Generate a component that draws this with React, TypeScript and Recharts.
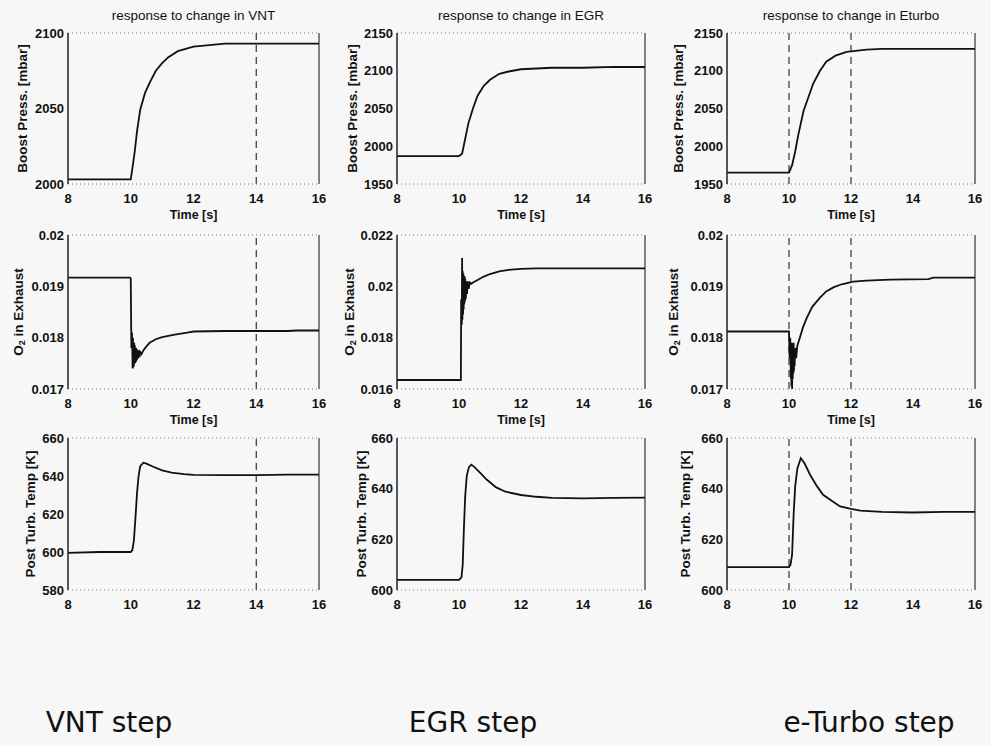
import React from 'react';
import { LineChart, Line, XAxis, YAxis, ReferenceLine, Label } from 'recharts';

// time axis shared by all nine panels
const timeTicks = [8, 10, 12, 14, 16];

const titles = ['response to change in VNT', 'response to change in EGR', 'response to change in Eturbo'];
const captions = ['VNT step', 'EGR step', 'e-Turbo step'];
const yLabels = ['Boost Press. [mbar]', 'O2 in Exhaust', 'Post Turb. Temp [K]'];

// y ticks, [row][col]
const boostTicks = [[2000, 2050, 2100], [1950, 2000, 2050, 2100, 2150], [1950, 2000, 2050, 2100, 2150]];
const o2Ticks = [[0.017, 0.018, 0.019, 0.02], [0.016, 0.018, 0.02, 0.022], [0.017, 0.018, 0.019, 0.02]];
const tempTicks = [[580, 600, 620, 640, 660], [600, 620, 640, 660], [600, 620, 640, 660]];

// dashed step markers per column
const stepMarks = [[14], [], [10, 12]];

// [time s, value]
const vntBoost = [
  [8, 2003], [9, 2003], [10, 2003], [10.05, 2010], [10.13, 2022], [10.2, 2035], [10.3, 2049], [10.45, 2060],
  [10.6, 2067], [10.8, 2075], [11, 2080], [11.2, 2084], [11.5, 2088], [12, 2091], [12.5, 2092], [13, 2093],
  [14, 2093], [15, 2093], [16, 2093],
];
const egrBoost = [
  [8, 1987], [10, 1987], [10.1, 1990], [10.2, 2010], [10.3, 2030], [10.45, 2050], [10.6, 2067], [10.8, 2080],
  [11, 2088], [11.3, 2096], [11.6, 2099], [12, 2102], [12.5, 2103], [13, 2104], [14, 2104], [15, 2105], [16, 2105],
];
const eturboBoost = [
  [8, 1965], [10, 1965], [10.1, 1975], [10.2, 1993], [10.3, 2015], [10.47, 2047], [10.6, 2062], [10.78, 2083],
  [11, 2100], [11.2, 2112], [11.5, 2120], [11.86, 2125], [12.5, 2128], [13, 2129], [14, 2129], [16, 2129],
];

const vntO2 = [
  [8, 0.01917], [9.98, 0.01917], [10, 0.01915], [10.02, 0.0178], [10.04, 0.0181], [10.06, 0.0174], [10.07, 0.018],
  [10.08, 0.01742], [10.09, 0.0179], [10.1, 0.01745], [10.11, 0.0179], [10.12, 0.0175], [10.13, 0.01785],
  [10.14, 0.0175], [10.15, 0.0178], [10.16, 0.01752], [10.17, 0.0178], [10.18, 0.01755], [10.19, 0.01778],
  [10.2, 0.01757], [10.22, 0.01776], [10.24, 0.0176], [10.26, 0.01775], [10.28, 0.01762], [10.3, 0.01772],
  [10.34, 0.01768], [10.4, 0.01775], [10.5, 0.01783], [10.6, 0.0179], [10.8, 0.01797], [11, 0.01801],
  [11.4, 0.01806], [11.8, 0.0181], [12, 0.01812], [13, 0.01813], [14, 0.01813], [15, 0.01813], [15.3, 0.01814],
  [16, 0.01814],
];
const egrO2 = [
  [8, 0.01635], [10, 0.01635], [10.06, 0.01635], [10.07, 0.0195], [10.09, 0.0185], [10.1, 0.0211], [10.11, 0.0187],
  [10.12, 0.0206], [10.13, 0.0189], [10.14, 0.0205], [10.15, 0.0191], [10.16, 0.0204], [10.17, 0.0193],
  [10.18, 0.0204], [10.19, 0.0194], [10.2, 0.0203], [10.22, 0.0195], [10.24, 0.0202], [10.26, 0.0197],
  [10.28, 0.0202], [10.31, 0.0199], [10.35, 0.02015], [10.4, 0.0201], [10.45, 0.02015], [10.6, 0.02025],
  [10.8, 0.02038], [11, 0.02048], [11.3, 0.02058], [11.6, 0.02064], [12, 0.02068], [12.5, 0.0207], [13, 0.0207],
  [16, 0.0207],
];
const eturboO2 = [
  [8, 0.01812], [10, 0.01812], [10.02, 0.0176], [10.04, 0.018], [10.06, 0.0172], [10.07, 0.0179], [10.08, 0.01705],
  [10.09, 0.0179], [10.1, 0.017], [10.11, 0.0178], [10.12, 0.0172], [10.13, 0.0178], [10.14, 0.0173],
  [10.15, 0.0179], [10.16, 0.01735], [10.17, 0.0178], [10.18, 0.01745], [10.2, 0.0178], [10.23, 0.0176],
  [10.27, 0.01785], [10.35, 0.018], [10.45, 0.0182], [10.57, 0.01838], [10.75, 0.0186], [11, 0.01878],
  [11.2, 0.0189], [11.43, 0.01898], [11.7, 0.01904], [12.07, 0.01909], [12.5, 0.01911], [13.26, 0.01913],
  [14.5, 0.01914], [14.65, 0.01917], [16, 0.01917],
];

const vntTemp = [
  [8, 599.5], [9, 600], [10, 600], [10.05, 601], [10.1, 606], [10.15, 618], [10.2, 631], [10.25, 640], [10.3, 645],
  [10.4, 647], [10.5, 646.5], [10.7, 645], [11, 643], [11.3, 641.8], [11.7, 641], [12, 640.6], [13, 640.5],
  [14, 640.5], [15, 640.7], [16, 640.7],
];
const egrTemp = [
  [8, 604], [10, 604], [10.08, 605], [10.12, 610], [10.16, 625], [10.2, 637], [10.25, 645], [10.32, 648.5],
  [10.4, 649.5], [10.5, 648.5], [10.7, 646], [10.9, 643.5], [11.2, 640.5], [11.5, 638.8], [12, 637.5],
  [12.5, 636.8], [13, 636.4], [14, 636.2], [15, 636.4], [16, 636.5],
];
const eturboTemp = [
  [8, 609], [10, 609], [10.05, 610], [10.1, 614], [10.15, 630], [10.2, 641], [10.27, 648], [10.38, 652], [10.5, 650],
  [10.68, 645.5], [10.9, 641], [11.1, 637.6], [11.4, 635], [11.65, 633], [12, 632], [12.3, 631.3], [13, 630.8],
  [14, 630.6], [15, 630.8], [16, 630.8],
];

const series = [
  [vntBoost, egrBoost, eturboBoost],
  [vntO2, egrO2, eturboO2],
  [vntTemp, egrTemp, eturboTemp],
];
const rowTicks = [boostTicks, o2Ticks, tempTicks];

// plot-area pixel geometry
const colLeft = [68, 397, 727];
const colRight = [319, 645, 975];
const rowTop = [33, 235, 438];
const rowBottom = [184, 389, 590];
const labelGap = [[46, 45, 49], [50, 48, 54], [38, 36, 42]];

const FONT = '"Liberation Sans", Arial, sans-serif';
const INK = '#111';

function yLabelContent(text: string, gap: number) {
  return (props: any) => {
    const { x, y, width, height } = props.viewBox;
    const cx = x + width - gap;
    const cy = y + height / 2;
    const isO2 = text.startsWith('O2');
    return (
      <text
        x={cx}
        y={cy}
        transform={`rotate(-90 ${cx} ${cy})`}
        textAnchor="middle"
        dominantBaseline="central"
        fill={INK}
        fontSize={13.5}
        fontFamily={FONT}
        fontWeight="bold"
      >
        {isO2 ? (
          <>
            <tspan>O</tspan>
            <tspan dy={4} fontSize={9}>2</tspan>
            <tspan dy={-4}>{text.slice(2)}</tspan>
          </>
        ) : (
          text
        )}
      </text>
    );
  };
}

function Panel({ row, col }: { row: number; col: number }) {
  const pl = colLeft[col];
  const pw = colRight[col] - pl;
  const pt = rowTop[row];
  const ph = rowBottom[row] - pt;
  const ticks = rowTicks[row][col];
  const yMin = ticks[0];
  const yMax = ticks[ticks.length - 1];
  const data = series[row][col].map(([t, v]) => ({ t, v }));

  return (
    <div style={{ position: 'absolute', left: pl - 60, top: pt - 10 }}>
      <LineChart width={pw + 70} height={ph + 50} data={data} margin={{ top: 10, right: 10, left: 0, bottom: 0 }}>
        <XAxis
          type="number"
          dataKey="t"
          domain={[8, 16]}
          ticks={timeTicks}
          allowDataOverflow
          height={40}
          tickLine={false}
          tickSize={4}
          tickMargin={6}
          axisLine={{ stroke: '#777', strokeDasharray: '1 3' }}
          tick={{ fill: INK, fontSize: 13, fontFamily: FONT, fontWeight: 'bold' }}
        >
          {row < 2 && (
            <Label value="Time [s]" position="insideBottom" offset={5} fill={INK} fontSize={12.5} fontFamily={FONT} fontWeight="bold" />
          )}
        </XAxis>
        <YAxis
          type="number"
          domain={[yMin, yMax]}
          ticks={ticks}
          allowDataOverflow
          width={60}
          tickLine={false}
          tickSize={0}
          tickMargin={4}
          axisLine={{ stroke: '#222', strokeWidth: 1.5 }}
          tick={{ fill: INK, fontSize: 13, fontFamily: FONT, fontWeight: 'bold' }}
        >
          <Label content={yLabelContent(yLabels[row], labelGap[row][col])} />
        </YAxis>
        <ReferenceLine y={yMax} stroke="#777" strokeDasharray="1 3" />
        <ReferenceLine x={16} stroke="#333" strokeWidth={1.2} />
        {stepMarks[col].map((m) => (
          <ReferenceLine key={m} x={m} stroke="#222" strokeWidth={1.1} strokeDasharray="7 5" />
        ))}
        <Line type="linear" dataKey="v" stroke={INK} strokeWidth={1.8} dot={false} isAnimationActive={false} />
      </LineChart>
    </div>
  );
}

export default function App() {
  const captionX = [109, 473, 869];
  return (
    <div style={{ position: 'absolute', left: 0, top: 0, width: 991, height: 746, background: '#f7f7f7', overflow: 'hidden' }}>
      {titles.map((t, c) => (
        <div
          key={t}
          style={{
            position: 'absolute',
            left: (colLeft[c] + colRight[c]) / 2 - 120,
            width: 240,
            top: 8,
            lineHeight: '16px',
            textAlign: 'center',
            fontFamily: FONT,
            fontSize: 13.5,
            color: INK,
          }}
        >
          {t}
        </div>
      ))}
      {[0, 1, 2].map((r) => [0, 1, 2].map((c) => <Panel key={`${r}-${c}`} row={r} col={c} />))}
      {captions.map((t, i) => (
        <div
          key={t}
          style={{
            position: 'absolute',
            left: captionX[i] - 120,
            width: 240,
            top: 709,
            lineHeight: '28px',
            textAlign: 'center',
            fontFamily: '"DejaVu Sans", sans-serif',
            fontSize: 28,
            color: '#111',
          }}
        >
          {t}
        </div>
      ))}
    </div>
  );
}
